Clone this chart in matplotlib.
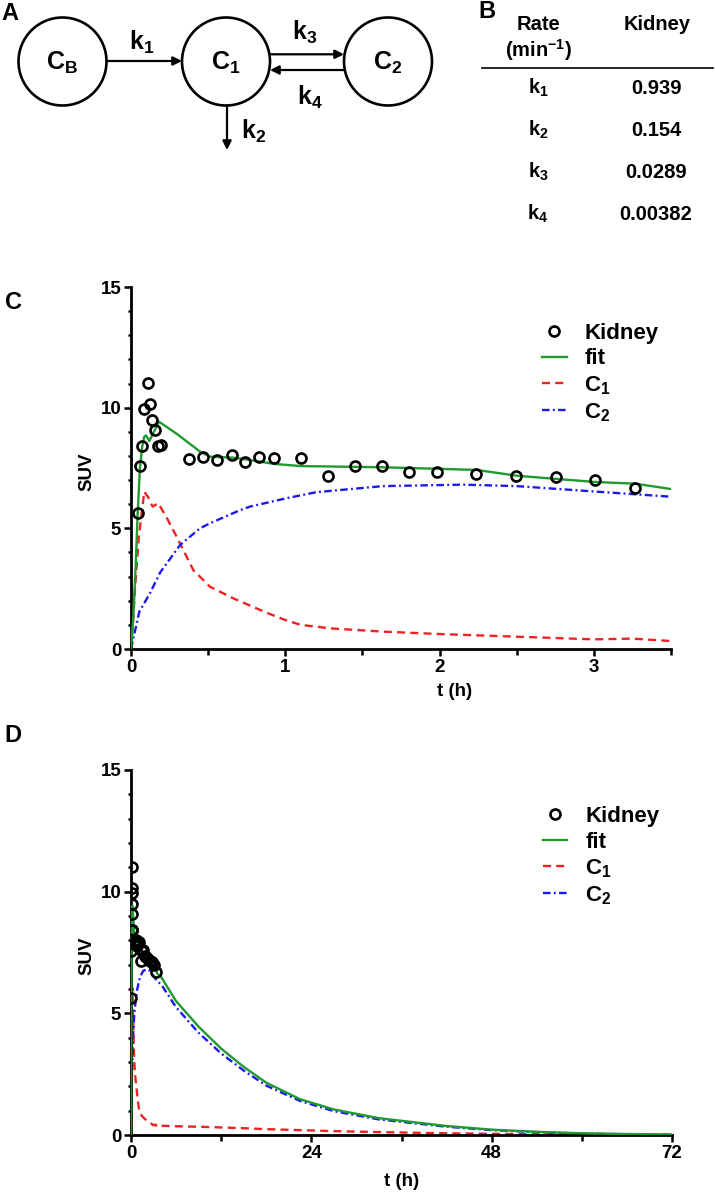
import matplotlib
matplotlib.use("Agg")
import matplotlib.pyplot as plt
from matplotlib.patches import Circle
from matplotlib.ticker import MultipleLocator

plt.rcParams['font.family'] = ['Liberation Sans', 'DejaVu Sans']
plt.rcParams['font.weight'] = 'bold'
plt.rcParams['axes.labelweight'] = 'bold'
plt.rcParams['mathtext.fontset'] = 'custom'
plt.rcParams['mathtext.rm'] = 'Liberation Sans'
plt.rcParams['mathtext.bf'] = 'Liberation Sans:bold'
plt.rcParams['mathtext.it'] = 'Liberation Sans:italic'

# ---- data ----
rate_names = [r'$\mathbf{k_1}$', r'$\mathbf{k_2}$', r'$\mathbf{k_3}$', r'$\mathbf{k_4}$']
rate_kidney = [0.939, 0.154, 0.0289, 0.00382]

# measured kidney SUV (h)
t_kidney = [0.043, 0.058, 0.073, 0.086, 0.108, 0.123, 0.138, 0.156, 0.177, 0.192,
            0.376, 0.469, 0.555, 0.653, 0.739, 0.830, 0.927, 1.102, 1.275, 1.452,
            1.627, 1.800, 1.981, 2.238, 2.493, 2.752, 3.009, 3.268]
suv_kidney = [5.62, 7.58, 8.41, 9.93, 11.01, 10.14, 9.49, 9.09, 8.43, 8.44,
              7.86, 7.94, 7.83, 8.03, 7.76, 7.94, 7.90, 7.93, 7.17, 7.58,
              7.60, 7.35, 7.32, 7.25, 7.17, 7.12, 7.00, 6.68]

# model curves, first 3.5 h
t_fit = [0, 0.015, 0.03, 0.043, 0.058, 0.073, 0.086, 0.097, 0.119, 0.181, 0.30,
         0.447, 0.51, 0.66, 0.771, 0.927, 1.10, 1.635, 2.24, 2.5, 2.752, 3.009, 3.268, 3.5]
suv_fit = [0, 1.3, 3.4, 5.6, 7.5, 8.4, 8.8, 8.85, 8.62, 9.42, 8.9,
           8.18, 7.97, 7.93, 7.83, 7.67, 7.58, 7.53, 7.42, 7.18, 7.05, 6.92, 6.85, 6.63]

t_c1 = [0, 0.01, 0.026, 0.05, 0.086, 0.11, 0.14, 0.177, 0.235, 0.296, 0.404, 0.512,
        0.663, 0.771, 0.9, 1.0, 1.1, 1.3, 1.635, 2.0, 2.5, 3.0, 3.25, 3.5]
suv_c1 = [0, 0.8, 2.5, 4.6, 6.52, 6.3, 5.9, 6.04, 5.4, 4.65, 3.27, 2.58,
          2.1, 1.8, 1.45, 1.2, 1.0, 0.85, 0.72, 0.62, 0.51, 0.4, 0.43, 0.33]

t_c2 = [0, 0.054, 0.123, 0.188, 0.318, 0.447, 0.512, 0.706, 0.771, 1.009, 1.203,
        1.635, 2.154, 2.5, 3.018, 3.5]
suv_c2 = [0, 1.55, 2.31, 3.16, 4.31, 5.0, 5.21, 5.75, 5.9, 6.25, 6.5,
          6.75, 6.81, 6.75, 6.52, 6.31]

# tail of the curves after 3.5 h (panel D)
t_tail = [4, 6, 9, 12, 15, 18, 22.5, 27, 33, 42, 48, 54, 60, 66, 72]
fit_tail = [6.5, 5.5, 4.45, 3.55, 2.8, 2.15, 1.47, 1.05, 0.69, 0.37, 0.22, 0.13, 0.07, 0.04, 0.02]
c1_tail = [0.38, 0.36, 0.34, 0.31, 0.28, 0.24, 0.2, 0.16, 0.12, 0.07, 0.05, 0.03, 0.02, 0.01, 0.01]
c2_tail = [6.2, 5.25, 4.2, 3.35, 2.65, 2.03, 1.4, 0.98, 0.64, 0.34, 0.2, 0.12, 0.06, 0.03, 0.02]

W, H = 715, 1199
fig = plt.figure(figsize=(W / 100, H / 100), dpi=100)

GREEN = '#1f9a2c'
RED = '#ee2222'
BLUE = '#1a1aee'

# ---- panel A + B (pixel coordinates) ----
axd = fig.add_axes([0, 1 - 230 / H, 1, 230 / H])
axd.set_xlim(0, W)
axd.set_ylim(230, 0)
axd.axis('off')

lab = 18
for cx, name in [(62.5, r'$\mathbf{C_B}$'), (226, r'$\mathbf{C_1}$'), (388, r'$\mathbf{C_2}$')]:
    axd.add_patch(Circle((cx, 61.5), 44, fill=False, lw=1.9, ec='black'))
    axd.text(cx, 63, name, ha='center', va='center', fontsize=lab)

def arrow(x0, y0, x1, y1):
    axd.annotate('', xy=(x1, y1), xytext=(x0, y0),
                 arrowprops=dict(arrowstyle='-|>', lw=1.6, color='black',
                                 mutation_scale=13, shrinkA=0, shrinkB=0))

arrow(106.5, 61, 182, 61)
arrow(270, 54.3, 344, 54.3)
arrow(344, 70, 270, 70)
arrow(227, 105.5, 227, 150)
axd.text(142, 42, r'$\mathbf{k_1}$', ha='center', va='center', fontsize=lab)
axd.text(305, 32, r'$\mathbf{k_3}$', ha='center', va='center', fontsize=lab)
axd.text(310, 97, r'$\mathbf{k_4}$', ha='center', va='center', fontsize=lab)
axd.text(254, 131, r'$\mathbf{k_2}$', ha='center', va='center', fontsize=lab)
axd.text(10, 14, 'A', ha='center', va='center', fontsize=17, fontweight='bold')

# table
axd.text(487, 11, 'B', ha='center', va='center', fontsize=17, fontweight='bold')
axd.text(539, 25, 'Rate', ha='center', va='center', fontsize=14.5)
axd.text(539, 50, r'(min$^{\mathbf{-1}}$)', ha='center', va='center', fontsize=14.5)
axd.text(657, 25, 'Kidney', ha='center', va='center', fontsize=14.5)
axd.plot([482, 713], [67.7, 67.7], color='black', lw=1.2)
for i, (nm, v) in enumerate(zip(rate_names, rate_kidney)):
    y = 88 + 42 * i
    axd.text(538, y, nm, ha='center', va='center', fontsize=14.5)
    axd.text(656, y, str(v), ha='center', va='center', fontsize=14.5)


def style(ax, xmax, xmaj, xmin):
    for s in ['top', 'right']:
        ax.spines[s].set_visible(False)
    for s in ['left', 'bottom']:
        ax.spines[s].set_linewidth(2)
    ax.set_xlim(0, xmax)
    ax.set_ylim(0, 15)
    ax.xaxis.set_major_locator(MultipleLocator(xmaj))
    ax.xaxis.set_minor_locator(MultipleLocator(xmin))
    ax.yaxis.set_major_locator(MultipleLocator(5))
    ax.yaxis.set_minor_locator(MultipleLocator(1))
    ax.tick_params(which='major', length=5, width=1.8, labelsize=13.5, pad=2)
    ax.tick_params(axis='x', which='minor', length=4, width=1.8)
    ax.tick_params(axis='y', which='minor', length=2, width=1.8)
    ax.set_ylabel('SUV', fontsize=13.5)
    ax.set_xlabel('t (h)', fontsize=13.5)


def draw(ax, tf, sf, t1, s1, t2, s2):
    ax.plot(t_kidney, suv_kidney, 'o', mfc='none', mec='black', ms=7.2, mew=1.9,
            label='Kidney', zorder=4)
    ax.plot(tf, sf, '-', color=GREEN, lw=1.7, label='fit', zorder=3)
    ax.plot(t1, s1, '--', color=RED, lw=1.7, dashes=(3.4, 2.2), label=r'$\mathbf{C_1}$', zorder=2)
    ax.plot(t2, s2, '-.', color=BLUE, lw=1.7, dashes=(3.2, 1.4, 0.8, 1.4), label=r'$\mathbf{C_2}$', zorder=2)
    ax.legend(loc='upper left', bbox_to_anchor=(0.745, 0.925), frameon=False,
              prop={'size': 16, 'weight': 'bold'}, handlelength=1.1, handletextpad=0.8,
              labelspacing=0.2, borderaxespad=0)


# ---- panel C ----
axc = fig.add_axes([131 / W, 1 - 649 / H, 540 / W, 362 / H])
draw(axc, t_fit, suv_fit, t_c1, suv_c1, t_c2, suv_c2)
style(axc, 3.5, 1, 0.5)
axc.yaxis.set_label_coords(-0.065, 0.49)
axc.xaxis.set_label_coords(0.6, -0.095)
fig.text(13 / W, 1 - 303 / H, 'C', ha='center', va='center', fontsize=17, fontweight='bold')

# ---- panel D ----
axdd = fig.add_axes([131 / W, 1 - 1135 / H, 541 / W, 365 / H])
draw(axdd, t_fit + t_tail, suv_fit + fit_tail, t_c1 + t_tail, suv_c1 + c1_tail,
     t_c2 + t_tail, suv_c2 + c2_tail)
style(axdd, 72, 24, 12)
axdd.yaxis.set_label_coords(-0.065, 0.49)
axdd.xaxis.set_label_coords(0.5, -0.105)
fig.text(13 / W, 1 - 735 / H, 'D', ha='center', va='center', fontsize=17, fontweight='bold')

fig.savefig('out.png', dpi=100)
